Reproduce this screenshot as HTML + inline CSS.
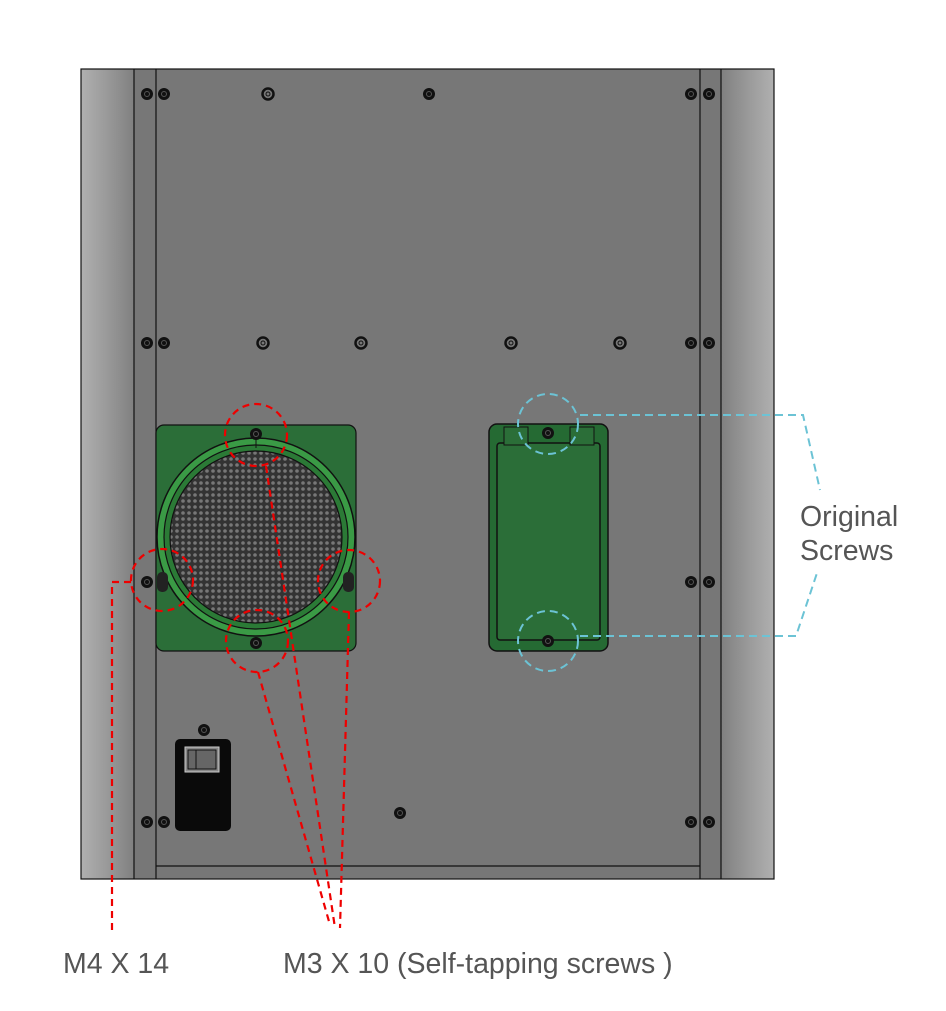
<!DOCTYPE html>
<html><head><meta charset="utf-8"><style>
body{margin:0;background:#fff;width:946px;height:1011px;overflow:hidden}
svg{display:block}
text{font-family:"Liberation Sans",sans-serif;fill:#555;font-size:28.5px}
</style></head><body>
<svg width="946" height="1011" viewBox="0 0 946 1011">
<defs>
<linearGradient id="gl" x1="0" x2="1"><stop offset="0" stop-color="#b0b0b0"/><stop offset="0.5" stop-color="#999"/><stop offset="1" stop-color="#808080"/></linearGradient>
<linearGradient id="gr" x1="0" x2="1"><stop offset="0" stop-color="#808080"/><stop offset="0.5" stop-color="#999"/><stop offset="1" stop-color="#b0b0b0"/></linearGradient>
<pattern id="mesh" width="6" height="6" patternUnits="userSpaceOnUse"><rect width="6" height="6" fill="#333"/><circle cx="3" cy="3" r="1.8" fill="#777"/></pattern>
<g id="sc"><circle r="6" fill="#111"/><circle r="2.5" fill="none" stroke="#555" stroke-width="1"/></g>
<g id="so"><circle r="5.5" fill="none" stroke="#111" stroke-width="2.5"/><circle r="2" fill="none" stroke="#111" stroke-width="1"/></g>
</defs>
<rect x="81" y="69" width="693" height="810" fill="#777"/>
<rect x="81" y="69" width="53" height="810" fill="url(#gl)"/>
<rect x="721" y="69" width="53" height="810" fill="url(#gr)"/>
<g stroke="#111" stroke-width="1.2" fill="none">
<rect x="81" y="69" width="693" height="810"/>
<line x1="134" y1="69" x2="134" y2="879"/><line x1="156" y1="69" x2="156" y2="879"/>
<line x1="700" y1="69" x2="700" y2="879"/><line x1="721" y1="69" x2="721" y2="879"/>
<line x1="156" y1="866" x2="700" y2="866"/>
</g>
<g>
<use href="#sc" x="147" y="94"/><use href="#sc" x="164" y="94"/><use href="#so" x="268" y="94"/><use href="#sc" x="429" y="94"/><use href="#sc" x="691" y="94"/><use href="#sc" x="709" y="94"/>
<use href="#sc" x="147" y="343"/><use href="#sc" x="164" y="343"/><use href="#so" x="263" y="343"/><use href="#so" x="361" y="343"/><use href="#so" x="511" y="343"/><use href="#so" x="620" y="343"/><use href="#sc" x="691" y="343"/><use href="#sc" x="709" y="343"/>
<use href="#sc" x="147" y="582"/><use href="#sc" x="691" y="582"/><use href="#sc" x="709" y="582"/>
<use href="#sc" x="147" y="822"/><use href="#sc" x="164" y="822"/><use href="#sc" x="691" y="822"/><use href="#sc" x="709" y="822"/>
<use href="#sc" x="400" y="813"/><use href="#sc" x="204" y="730"/>
</g>
<rect x="156" y="425" width="200" height="226" rx="8" fill="#2b6e38" stroke="#111" stroke-width="1.2"/>
<circle cx="256" cy="537" r="99" fill="#3a9a45" stroke="#111" stroke-width="1.5"/>
<circle cx="256" cy="537" r="92" fill="#2b7a36" stroke="#111" stroke-width="1.2"/>
<circle cx="256" cy="537" r="86" fill="url(#mesh)" stroke="#111" stroke-width="1.2"/>
<line x1="256" y1="437" x2="256" y2="448" stroke="#111"/>
<use href="#sc" x="256" y="434"/><use href="#sc" x="256" y="643"/>
<rect x="157" y="572" width="11" height="20" rx="5" fill="#222"/><rect x="343" y="572" width="11" height="20" rx="5" fill="#222"/>
<rect x="489" y="424" width="119" height="227" rx="8" fill="#256a33" stroke="#111" stroke-width="1.5"/>
<rect x="497" y="443" width="103" height="197" rx="3" fill="#2b6e38" stroke="#111" stroke-width="1.5"/>
<rect x="504" y="427" width="24" height="18" fill="#2b6e38" stroke="#111"/>
<rect x="570" y="427" width="24" height="18" fill="#2b6e38" stroke="#111"/>
<use href="#sc" x="548" y="433"/><use href="#sc" x="548" y="641"/>
<rect x="175" y="739" width="56" height="92" rx="5" fill="#0a0a0a"/>
<rect x="185" y="747" width="34" height="25" fill="#888" stroke="#ccc"/>
<rect x="188" y="750" width="28" height="19" fill="#666" stroke="#111"/>
<line x1="196" y1="750" x2="196" y2="769" stroke="#111"/>
<g stroke="#e00" stroke-width="2.2" fill="none" stroke-dasharray="7,5">
<circle cx="256" cy="435" r="31"/>
<circle cx="162" cy="580" r="31"/>
<circle cx="349" cy="581" r="31"/>
<circle cx="257" cy="641" r="31"/>
<polyline points="131,582 112,582 112,930"/>
<line x1="266" y1="466" x2="335" y2="928"/>
<line x1="258" y1="672" x2="330" y2="925"/>
<line x1="349" y1="612" x2="340" y2="928"/>
</g>
<g stroke="#6cc3d5" stroke-width="2" fill="none" stroke-dasharray="8,5">
<circle cx="548" cy="424" r="30"/>
<circle cx="548" cy="641" r="30"/>
<polyline points="580,415 803,415 820,490"/>
<polyline points="580,636 796,636 818,570"/>
</g>
<text x="800" y="526">Original</text>
<text x="800" y="560">Screws</text>
<text x="63" y="973">M4 X 14</text>
<text x="283" y="973">M3 X 10 (Self-tapping screws )</text>
</svg>
</body></html>
